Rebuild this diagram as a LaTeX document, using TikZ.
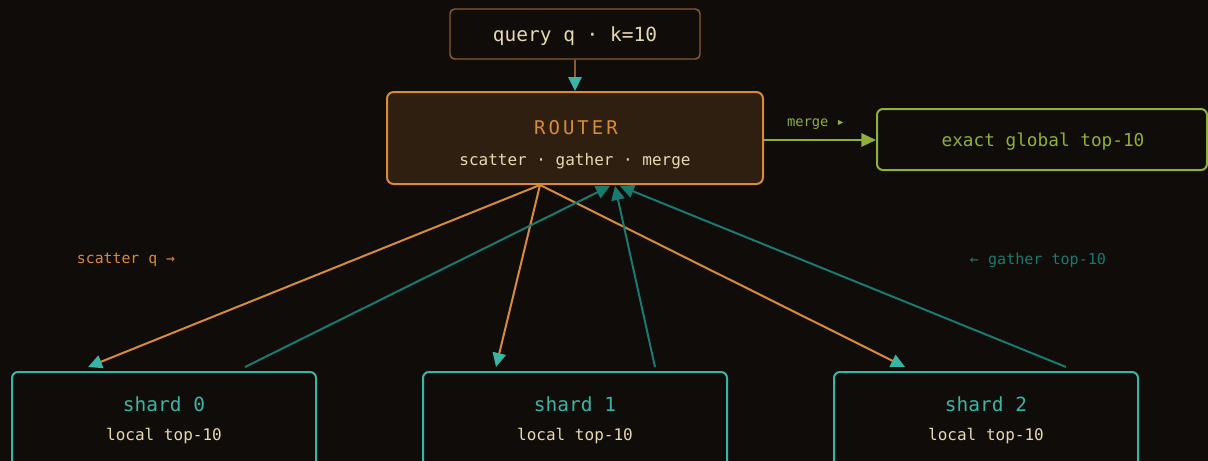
\documentclass[tikz,border=0pt]{standalone}
\usepackage{fontspec}
\setmonofont{DejaVu Sans Mono}
\usetikzlibrary{arrows.meta,calc}
\definecolor{bg}{HTML}{0F0C09}
\definecolor{routerfill}{HTML}{2E1F10}
\definecolor{orangeC}{HTML}{D98A3A}
\definecolor{creamC}{HTML}{E8D8B0}
\definecolor{tealL}{HTML}{3AB5A5}
\definecolor{tealD}{HTML}{1A7A70}
\definecolor{greenC}{HTML}{8FB03A}
\definecolor{queryB}{HTML}{8A5A30}
\tikzset{
  box/.style={rectangle, rounded corners=4.5pt, inner sep=0pt, line width=1.5pt, fill=bg},
  mono/.style={font=\ttfamily\fontsize{#1}{#1}\selectfont, inner sep=0pt, anchor=center},
  tipL/.style={-{Triangle[length=10.5pt,width=10pt,color=tealL,fill=tealL]}},
  tipD/.style={-{Triangle[length=10.5pt,width=10pt,color=tealD,fill=tealD]}},
  scat/.style={draw=orangeC, line width=1.5pt, tipL},
  gath/.style={draw=tealD, line width=1.5pt, tipD},
}
\begin{document}
\begin{tikzpicture}[x=0.75pt,y=-0.75pt]
\clip (0,0) rectangle (1208,461);
\fill[bg] (0,0) rectangle (1208,461);
% boxes
\node[box, draw=queryB, line width=1.1pt, rounded corners=3.5pt, minimum width=187.5pt, minimum height=37.5pt] (query) at (575,34) {};
\node[box, draw=orangeC, fill=routerfill, rounded corners=5pt, minimum width=282pt, minimum height=69pt] (router) at (575,138) {};
\node[box, draw=greenC, minimum width=247.5pt, minimum height=45.75pt] (out) at (1042,139.5) {};
\node[box, draw=tealL, minimum width=228pt, minimum height=75pt, anchor=north] (shard0) at (164,371) {};
\node[box, draw=tealL, minimum width=228pt, minimum height=75pt, anchor=north] (shard1) at (575,371) {};
\node[box, draw=tealL, minimum width=228pt, minimum height=75pt, anchor=north] (shard2) at (986,371) {};
% texts
\node[mono=14.6, text=creamC] (qtext) at (575,36.5) {query q · k=10};
\node[mono=14.2, text=orangeC, font=\ttfamily\fontsize{14.2}{14.2}\selectfont\addfontfeature{LetterSpace=16}] (rtitle) at (576,128) {ROUTER};
\node[mono=12, text=creamC] (rsub) at (575,161) {scatter · gather · merge};
\node[mono=13.3, text=greenC] (otext) at (1043,142) {exact global top-10};
\node[mono=14.6, text=tealL] (s0t) at (164,404) {shard 0};
\node[mono=12, text=creamC] (s0s) at (164,436) {local top-10};
\node[mono=14.6, text=tealL] (s1t) at (575,404) {shard 1};
\node[mono=12, text=creamC] (s1s) at (575,436) {local top-10};
\node[mono=14.6, text=tealL] (s2t) at (986,404) {shard 2};
\node[mono=12, text=creamC] (s2s) at (986,436) {local top-10};
\node[mono=11.1, text=orangeC] (lscat) at (126,260) {scatter q →};
\node[mono=11.3, text=tealD] (lgath) at (1038,260) {← gather top-10};
\node[mono=10.3, text=greenC] (lmerge) at (816,124.5) {merge ▸};
% connectors
\draw[draw=queryB, line width=1.6pt, tipL] (query.south) -- (router.north);
\draw[draw=greenC, line width=1.6pt, -{Triangle[length=11pt,width=10pt,fill=greenC]}] (router.east |- 0,140) -- (out.west |- 0,140);
\draw[scat] ($(router.south)+(-35,0)$) -- ($(shard0.north)+(-76,-4)$);
\draw[scat] ($(router.south)+(-35,0)$) -- ($(shard1.north)+(-79,-4)$);
\draw[scat] ($(router.south)+(-35,0)$) -- ($(shard2.north)+(-81,-4)$);
\draw[gath] ($(shard0.north)+(81,-4)$) -- ($(router.south)+(35,1)$);
\draw[gath] ($(shard1.north)+(80,-4)$) -- ($(router.south)+(40,1)$);
\draw[gath] ($(shard2.north)+(80,-4)$) -- ($(router.south)+(45,1)$);
\end{tikzpicture}
\end{document}
